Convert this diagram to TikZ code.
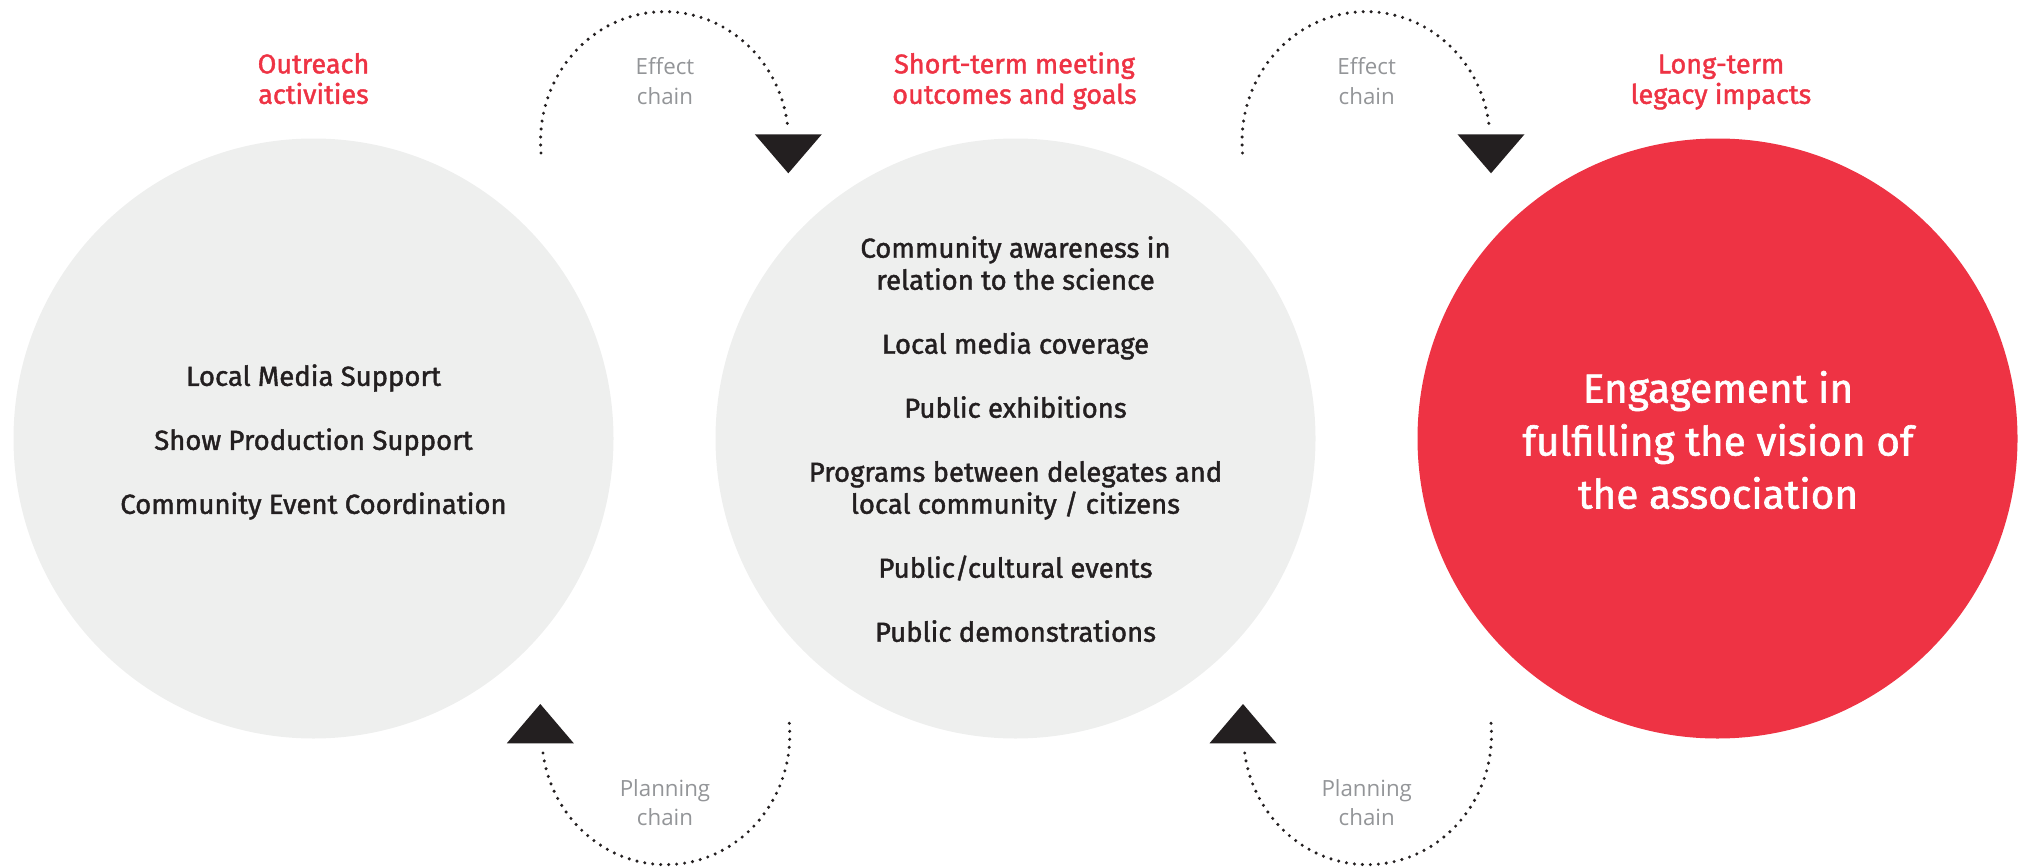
\documentclass[tikz,border=0pt]{standalone}
\usepackage{fontspec}
\setmainfont{Fira Sans}
\newfontfamily\medfont[FakeBold=1.5]{Fira Sans}
\newfontfamily\lightfont{Open Sans}
\definecolor{accent}{RGB}{238,51,68}
\definecolor{circgray}{RGB}{238,239,238}
\definecolor{ink}{RGB}{35,31,32}
\definecolor{labelgray}{RGB}{147,149,152}
\begin{document}
\begin{tikzpicture}[x=1pt,y=-1pt,
  bubble/.style={circle, minimum size=600pt, inner sep=0pt, fill=circgray},
  hotbubble/.style={bubble, fill=accent},
  itemtext/.style={text=ink, font=\medfont\fontsize{27.5}{32}\selectfont, align=center, anchor=base, inner sep=0pt},
  bigtext/.style={text=white, font=\medfont\fontsize{40.5}{53}\selectfont, align=center, anchor=base, inner sep=0pt},
  titletext/.style={text=accent, font=\medfont\fontsize{27}{30.5}\selectfont, align=center, anchor=base, inner sep=0pt},
  chainlabel/.style={text=labelgray, font=\lightfont\fontsize{22.3}{29.5}\selectfont, align=center, anchor=base, inner sep=0pt},
  chainline/.style={draw=ink, line width=3.4pt, line cap=round, dash pattern=on 0pt off 8pt},
  tiptri/.style={fill=ink}]
\useasboundingbox (0,0) rectangle (2018,867);

% circles
\node[bubble] (c1) at (313.5,438.5) {};
\node[bubble] (c2) at (1015.5,438.5) {};
\node[hotbubble] (c3) at (1717.5,438.5) {};

% titles (base anchor = last line baseline)
\node[titletext] (h1) at (313.5,103.8) {Outreach\\activities};
\node[titletext] (h2) at (1014.5,103.8) {Short-term meeting\\outcomes and goals};
\node[titletext] (h3) at (1721,103.8) {Long-term\\legacy impacts};

% circle contents
\node[itemtext] (l1) at (313.5,513.8) {Local Media Support\\[32pt]Show Production Support\\[32pt]Community Event Coordination};
\node[itemtext] (l2) at (1015.5,641.7) {Community awareness in\\relation to the science\\[32pt]Local media coverage\\[32pt]Public exhibitions\\[32pt]Programs between delegates and\\local community / citizens\\[32pt]Public/cultural events\\[32pt]Public demonstrations};
\node[bigtext] (l3) at (1718,508.5) {Engagement in\\fulfilling the vision of\\the association};

% chain labels
\node[chainlabel] (e1) at (665,104) {Effect\\chain};
\node[chainlabel] (e2) at (1366.7,104) {Effect\\chain};
\node[chainlabel] (p1) at (665,825.5) {Planning\\chain};
\node[chainlabel] (p2) at (1366.7,825.5) {Planning\\chain};

% arrow tips
\coordinate (et1) at (788.3,173.3);
\coordinate (et2) at (1491,173.3);
\coordinate (pt1) at (540.3,704);
\coordinate (pt2) at (1243,704);
\fill[tiptri] (et1) -- ++(33.5,-39) -- ++(-67,0) -- cycle;
\fill[tiptri] (et2) -- ++(33.5,-39) -- ++(-67,0) -- cycle;
\fill[tiptri] (pt1) -- ++(33.5,39.3) -- ++(-67,0) -- cycle;
\fill[tiptri] (pt2) -- ++(33.5,39.3) -- ++(-67,0) -- cycle;

% dotted chains
\coordinate (es1) at (541,153);
\coordinate (es2) at (1242.5,153);
\coordinate (ps1) at (789.3,723.3);
\coordinate (ps2) at (1491,723.3);
\draw[chainline] (es1) arc[start angle=185, end angle=5, x radius=124pt, y radius=130pt];
\draw[chainline] (es2) arc[start angle=185, end angle=5, x radius=124pt, y radius=130pt];
\draw[chainline] (ps1) arc[start angle=5, end angle=-175, x radius=124pt, y radius=130pt];
\draw[chainline] (ps2) arc[start angle=5, end angle=-175, x radius=124pt, y radius=130pt];
\end{tikzpicture}
\end{document}
